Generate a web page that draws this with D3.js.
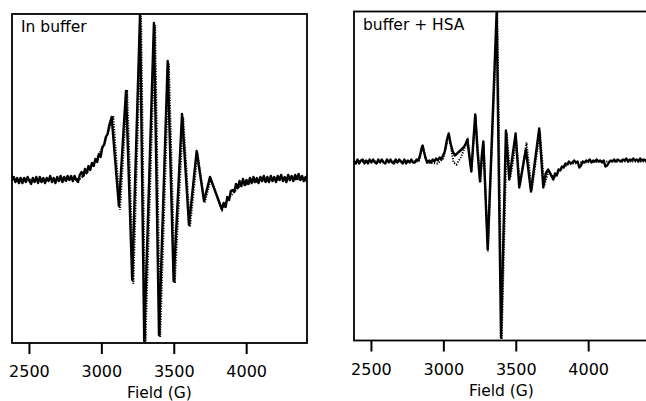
<!DOCTYPE html>
<html>
<head>
<meta charset="utf-8">
<script src="https://cdn.jsdelivr.net/npm/d3@7"></script>
<style>
  html, body { margin: 0; padding: 0; background: #fff; }
  svg { display: block; }
  .frame { fill: none; stroke: #000; stroke-width: 1.8; }
  .exp { fill: none; stroke: #000; stroke-width: 2.4; stroke-linejoin: round; }
  .fit { fill: none; stroke: #000; stroke-width: 2; stroke-dasharray: 1.2,1.4; }
  text { font-family: "DejaVu Sans", Verdana, sans-serif; fill: #000; }
</style>
</head>
<body>
<div id="chart"></div>
<script>
// EPR spectra: experimental (solid) and simulated (dotted), field in gauss

const panelTitles = ['In buffer', 'buffer + HSA']
const fieldTicks = [2500, 3000, 3500, 4000]
const fieldRange = [2383, 4420]
const axisLabel = 'Field (G)'

// In buffer - measured trace [field, intensity a.u.]
const bufferExp = [
  [2383, 0], [2395, 3], [2407, -2], [2419, 2], [2431, -3], [2443, 2], [2455, -3], [2467, 2],
  [2479, -2], [2491, 3], [2503, -1], [2515, -4], [2527, 2], [2539, -2], [2551, 3], [2563, -3],
  [2575, 3], [2587, -2], [2599, 2], [2611, -3], [2623, 2], [2635, -1], [2647, 4], [2659, -2],
  [2671, 2], [2683, -3], [2695, 3], [2707, -1], [2719, 4], [2731, -2], [2743, 3], [2755, -1],
  [2767, 4], [2779, 0], [2791, 4], [2803, -1], [2815, 4], [2827, 0], [2839, -2], [2851, 5],
  [2863, 8], [2875, 4], [2887, 11], [2899, 7], [2911, 14], [2923, 10], [2935, 17], [2947, 14],
  [2959, 21], [2971, 18], [2983, 26], [2995, 23], [3007, 33], [3019, 35], [3031, 43], [3043, 46],
  [3055, 55], [3065, 60], [3071, 63],
  [3121, -26], [3170, 89], [3213, -100], [3267, 166], [3296, -161], [3363, 157], [3398, -155],
  [3458, 119], [3499, -101], [3557, 66], [3605, -45], [3658, 29], [3709, -21], [3750, 3],
  [3831, -29], [3845, -23], [3858, -27], [3870, -17], [3882, -20], [3894, -11], [3906, -10],
  [3918, -12], [3930, -4], [3942, -8], [3954, -1], [3966, -6], [3978, 1], [3990, -5], [4002, 0],
  [4014, -4], [4026, 2], [4038, -3], [4050, 3], [4062, -2], [4074, 2], [4086, -3], [4098, 3],
  [4110, -1], [4122, 4], [4134, -2], [4146, 3], [4158, -2], [4170, 4], [4182, -1], [4194, 3],
  [4206, -2], [4218, 4], [4230, 0], [4242, 5], [4254, -1], [4266, 3], [4278, -2], [4290, 5],
  [4302, 0], [4314, 4], [4326, -1], [4338, 5], [4350, 1], [4362, 6], [4374, 0], [4386, 4],
  [4398, -1], [4410, 3], [4420, -2]
]

// In buffer - simulation
const bufferFit = [
  [2383, 0], [2850, 1], [2900, 7], [2960, 19], [3020, 36], [3050, 49], [3082, 64], [3129, -30],
  [3178, 90], [3221, -104], [3274, 164], [3304, -163], [3371, 155], [3406, -157], [3466, 117],
  [3507, -103], [3565, 63], [3612, -47], [3664, 27], [3713, -23], [3755, 1], [3834, -30],
  [3880, -18], [3950, -7], [4050, -2], [4200, 0], [4420, 1]
]

// buffer + HSA - measured trace
const hsaExp = [
  [2383, 0], [2395, -2], [2407, 2], [2419, -2], [2431, 1], [2443, 2], [2455, -2], [2467, 1],
  [2479, -2], [2491, 2], [2503, -1], [2515, 2], [2527, -1], [2539, -2], [2551, 2], [2563, -1],
  [2575, 2], [2587, -1], [2599, -2], [2611, 2], [2623, -1], [2635, 2], [2647, -1], [2659, -2],
  [2671, 2], [2683, -1], [2695, 2], [2707, 0], [2719, -2], [2731, 2], [2743, -2], [2755, 1],
  [2767, -1], [2779, 2], [2791, -1], [2803, -1], [2815, 2], [2827, 1], [2839, 6], [2851, 14],
  [2857, 16], [2866, 10], [2878, 3], [2890, -1], [2902, 1], [2914, -1], [2926, 2], [2938, 0],
  [2950, 3], [2962, 1], [2974, 4], [2986, 2], [2998, 6], [3010, 10], [3025, 22], [3037, 28],
  [3050, 18], [3065, 10], [3080, 6], [3095, 8], [3110, 10], [3125, 12], [3140, 14], [3155, 18],
  [3166, 22], [3180, 5], [3193, -10], [3207, 20], [3220, 47], [3236, 10], [3253, -20], [3265, 5],
  [3276, 20], [3306, -88], [3368, 150], [3398, -176], [3432, 31], [3455, -18], [3499, 28],
  [3524, -26], [3570, 12], [3605, -30], [3662, 33], [3690, -26], [3707, -12], [3724, -8],
  [3741, -13], [3759, -18], [3771, -12], [3783, -14], [3795, -8], [3807, -9], [3819, -5],
  [3831, -6], [3843, -2], [3855, -3], [3867, 0], [3879, -2], [3891, -1], [3903, 1], [3915, -1],
  [3927, 0], [3939, -6], [3951, -4], [3963, 0], [3975, -1], [3987, 1], [3999, 0], [4011, 2],
  [4023, -1], [4035, 1], [4047, 0], [4059, 2], [4071, 0], [4083, 1], [4095, -1], [4107, 1],
  [4119, -5], [4131, -4], [4143, -1], [4155, 1], [4167, 0], [4179, 2], [4191, 0], [4203, 2],
  [4215, 1], [4227, 0], [4239, 2], [4251, 1], [4263, 3], [4275, 0], [4287, 2], [4299, 1],
  [4311, 3], [4323, 1], [4335, 2], [4347, 0], [4359, 3], [4371, 1], [4383, 2], [4395, 1],
  [4407, 2], [4420, 1]
]

// buffer + HSA - simulation
const hsaFit = [
  [2383, 0], [2830, 0], [2857, 15], [2885, -1], [2960, -2], [3000, 3], [3038, 27], [3070, -1],
  [3090, -3], [3120, 4], [3168, 21], [3194, -10], [3222, 46], [3255, -21], [3278, 19],
  [3308, -90], [3372, 150], [3403, -178], [3438, 29], [3462, -16], [3504, 20], [3529, -24],
  [3574, 19], [3610, -29], [3667, 30], [3696, -24], [3728, -9], [3762, -17], [3800, -9],
  [3860, -3], [3950, -1], [4100, 0], [4420, 0]
]

const intensityRanges = [[-163, 166], [-179, 150]]

const width = 646
const height = 401

const svg = d3.select('#chart')
  .append('svg')
  .attr('width', width)
  .attr('height', height)

// panel boxes in pixels
const panels = [
  { x0: 12, x1: 307, y0: 14, y1: 343, title: panelTitles[0], exp: bufferExp, fit: bufferFit, yDom: intensityRanges[0] },
  { x0: 354, x1: 649, y0: 11.5, y1: 340.5, title: panelTitles[1], exp: hsaExp, fit: hsaFit, yDom: intensityRanges[1] }
]

panels.forEach((p, i) => {
  const x = d3.scaleLinear().domain(fieldRange).range([p.x0, p.x1])
  const y = d3.scaleLinear().domain(p.yDom).range([p.y1, p.y0])

  svg.append('clipPath')
    .attr('id', `clip${i}`)
    .append('rect')
    .attr('x', p.x0)
    .attr('y', p.y0)
    .attr('width', p.x1 - p.x0)
    .attr('height', p.y1 - p.y0)

  const line = d3.line()
    .x(d => x(d[0]))
    .y(d => y(d[1]))

  const g = svg.append('g').attr('clip-path', `url(#clip${i})`)

  g.append('path')
    .datum(p.fit)
    .attr('class', 'fit')
    .attr('d', line)

  g.append('path')
    .datum(p.exp)
    .attr('class', 'exp')
    .attr('d', line)

  svg.append('rect')
    .attr('class', 'frame')
    .attr('x', p.x0)
    .attr('y', p.y0)
    .attr('width', p.x1 - p.x0)
    .attr('height', p.y1 - p.y0)

  const axis = svg.append('g')
    .attr('transform', `translate(0, ${p.y1})`)
    .call(d3.axisBottom(x)
      .tickValues(fieldTicks)
      .tickSize(11)
      .tickPadding(12)
      .tickFormat(d3.format('d')))
  axis.select('.domain').remove()
  axis.selectAll('line').attr('stroke-width', 2)
  axis.attr('font-family', null).attr('font-size', null)
  axis.selectAll('text')
    .style('font-size', '16px')
    .attr('fill', '#000')

  svg.append('text')
    .attr('x', (p.x0 + p.x1) / 2)
    .attr('y', p.y1 + 55)
    .attr('text-anchor', 'middle')
    .style('font-size', '15.5px')
    .text(axisLabel)

  svg.append('text')
    .attr('x', p.x0 + 9)
    .attr('y', p.y0 + 18.3)
    .style('font-size', '15.5px')
    .text(p.title)
})
</script>
</body>
</html>
